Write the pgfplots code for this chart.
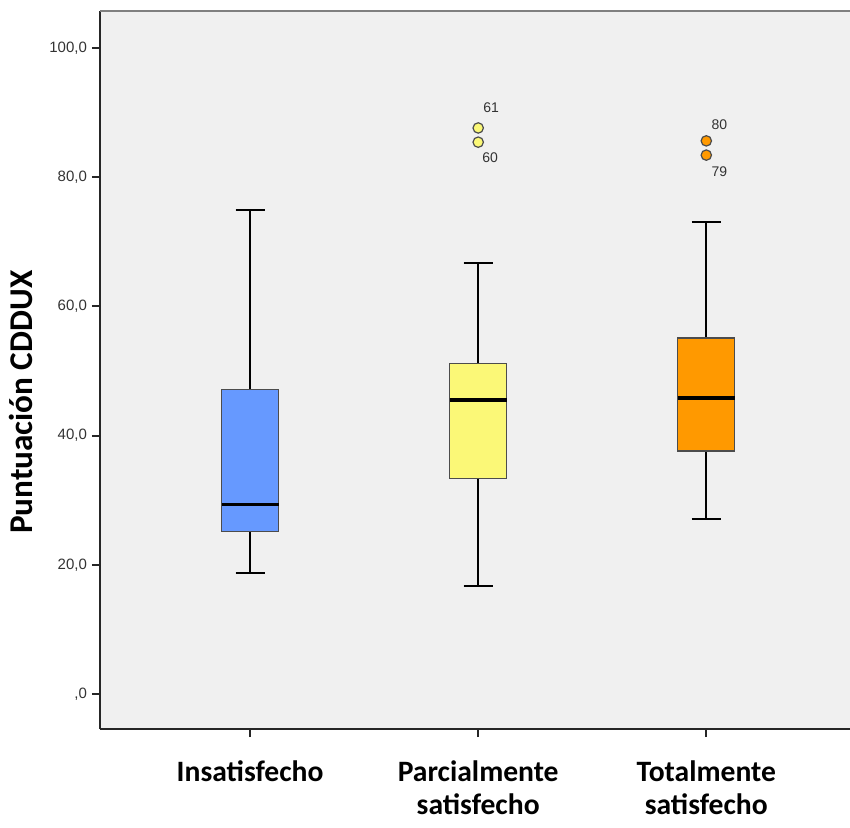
\documentclass[border=0pt]{standalone}
\usepackage{fontspec}
\setmainfont{Liberation Sans}
\newfontfamily\carlito{Carlito}
\usepackage{pgfplots}
\pgfplotsset{compat=1.18}
\usepgfplotslibrary{statistics}
\definecolor{cblue}{HTML}{6699FF}
\definecolor{cyellow}{HTML}{FBF877}
\definecolor{corange}{HTML}{FF9900}
\definecolor{bg}{HTML}{F0F0F0}
\definecolor{txt}{HTML}{333333}
\begin{document}
\begin{tikzpicture}
\begin{axis}[
  name=ax,
  scale only axis,
  width=375pt, height=359pt,
  xmin=-0.658, xmax=2.63,
  ymin=-5.42, ymax=105.7,
  axis background/.style={fill=bg},
  axis x line*=bottom, axis y line*=left,
  axis line style={line width=1pt, black!85, -},
  xtick={0,1,2},
  xticklabels={Insatisfecho, {Parcialmente\\satisfecho}, {Totalmente\\satisfecho}},
  xticklabel style={font=\carlito\bfseries\fontsize{14.8}{16.5}\selectfont, align=center, black, yshift=-8.5pt},
  ytick={0,20,40,60,80,100},
  yticklabels={{,0},{20,0},{40,0},{60,0},{80,0},{100,0}},
  yticklabel style={font=\fontsize{7.5}{9}\selectfont, txt, xshift=1pt},
  tick align=outside, major tick length=4pt,
  tick style={line width=1pt, black!85},
  ylabel={Puntuación CDDUX},
  every axis y label/.style={at={([xshift=-39.5pt]rel axis cs:0,0.455)}, rotate=90, anchor=center,
     font=\carlito\bfseries\fontsize{16.6}{19}\selectfont},
  boxplot/draw direction=y,
  boxplot/box extend=0.25,
  boxplot/whisker extend=0.127,
  boxplot/every median/.style={line width=1.6pt, black},
  boxplot/every whisker/.style={line width=1pt, black},
  clip=false,
]
\addplot[boxplot prepared={draw position=0, lower whisker=18.7, lower quartile=25.1, median=29.3, upper quartile=47.1, upper whisker=74.9},
  fill=cblue, draw=black!70, line width=0.6pt] coordinates {};
\addplot[boxplot prepared={draw position=1, lower whisker=16.7, lower quartile=33.3, median=45.5, upper quartile=51.1, upper whisker=66.7},
  fill=cyellow, draw=black!70, line width=0.6pt, mark=*, mark size=2.6pt, mark options={fill=cyellow, draw=black!70, line width=0.6pt}]
  coordinates {(1,87.6) (1,85.4)};
\addplot[boxplot prepared={draw position=2, lower whisker=27.1, lower quartile=37.6, median=45.8, upper quartile=55.1, upper whisker=73.1},
  fill=corange, draw=black!70, line width=0.6pt, mark=*, mark size=2.6pt, mark options={fill=corange, draw=black!70, line width=0.6pt}]
  coordinates {(2,85.6) (2,83.4)};
\node[font=\fontsize{7}{8}\selectfont, txt] at ([xshift=6.5pt,yshift=10pt]axis cs:1,87.6) {61};
\node[font=\fontsize{7}{8}\selectfont, txt] at ([xshift=6pt,yshift=-8pt]axis cs:1,85.4) {60};
\node[font=\fontsize{7}{8}\selectfont, txt] at ([xshift=6.5pt,yshift=8pt]axis cs:2,85.6) {80};
\node[font=\fontsize{7}{8}\selectfont, txt] at ([xshift=6.5pt,yshift=-8.5pt]axis cs:2,83.4) {79};
\draw[gray, line width=1pt] (rel axis cs:0,1) -- (rel axis cs:1,1);
\end{axis}
\pgfresetboundingbox
\path[use as bounding box] ([xshift=-50pt,yshift=-49pt]ax.south west) rectangle ([yshift=5.5pt]ax.north east);
\end{tikzpicture}
\end{document}
